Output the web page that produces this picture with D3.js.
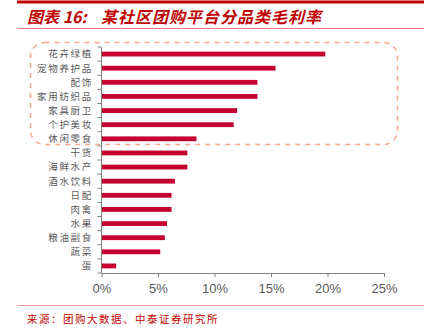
<!DOCTYPE html>
<html><head><meta charset="utf-8">
<script src="https://cdn.jsdelivr.net/npm/d3@7"></script>
<style>body{margin:0;background:#fff}svg{display:block}</style>
</head><body>
<script>
const categories = ["花卉绿植","宠物养护品","配饰","家用纺织品","家具厨卫","个护美妆","休闲零食","干货","海鲜水产","酒水饮料","日配","肉禽","水果","粮油副食","蔬菜","蛋"];
const values = [19.8,15.4,13.8,13.8,12.0,11.7,8.4,7.6,7.6,6.5,6.2,6.2,5.8,5.6,5.2,1.3];
const xTicks = [0,5,10,15,20,25];
const titleA = "图表 16:";
const titleB = "某社区团购平台分品类毛利率";
const source = "来源：团购大数据、中泰证券研究所";

const W=432,H=336;
const svg=d3.select("body").append("svg").attr("width",W).attr("height",H);
const red="#C00000";
const cjk="'Noto Sans CJK SC','Noto Sans',sans-serif";

svg.append("rect").attr("x",17).attr("y",0.5).attr("width",407).attr("height",3).attr("fill",red);
svg.append("text").attr("x",27).attr("y",23).attr("fill",red).attr("font-family",cjk)
  .attr("font-size",16).attr("font-weight","bold").attr("font-style","italic").text(titleA);
svg.append("text").attr("x",101).attr("y",23).attr("fill",red).attr("font-family",cjk)
  .attr("font-size",16).attr("font-weight","bold").attr("font-style","italic").attr("letter-spacing",1).text(titleB);
svg.append("line").attr("x1",17).attr("x2",424).attr("y1",28.5).attr("y2",28.5).attr("stroke","#E88080").attr("stroke-width",1);
svg.append("line").attr("x1",17).attr("x2",424).attr("y1",305.5).attr("y2",305.5).attr("stroke","#F0A0A0").attr("stroke-width",1);
svg.append("text").attr("x",27).attr("y",323).attr("fill",red).attr("font-family",cjk).attr("font-size",10.5).attr("letter-spacing",1.5).text(source);

const x=d3.scaleLinear().domain([0,25]).range([101.5,384]);
const y=d3.scaleBand().domain(categories).range([47,273]).paddingInner(0.66).paddingOuter(0.33);

svg.append("g").selectAll("rect").data(categories).join("rect")
  .attr("x",x(0)).attr("y",d=>y(d)).attr("height",y.bandwidth())
  .attr("width",(d,i)=>x(values[i])-x(0)).attr("fill","#C4002F");

// y axis
const ya=svg.append("g");
ya.append("line").attr("x1",x(0)).attr("x2",x(0)).attr("y1",47).attr("y2",273).attr("stroke","#808080");
d3.range(17).forEach(i=>{
  ya.append("line").attr("x1",x(0)-4).attr("x2",x(0)).attr("y1",47+i*(226/16)).attr("y2",47+i*(226/16)).attr("stroke","#808080");
});
ya.selectAll("text").data(categories).join("text")
  .attr("x",93).attr("y",d=>y(d)+y.bandwidth()/2).attr("dy","0.36em").attr("text-anchor","end")
  .attr("fill","#595959").attr("font-family",cjk).attr("font-size",9.5).attr("letter-spacing",1.7).text(d=>d);

// x axis
const xa=svg.append("g").attr("transform","translate(0,273)")
  .call(d3.axisBottom(x).tickValues(xTicks).tickFormat(d=>d+"%").tickSize(4).tickSizeOuter(0));
xa.select(".domain").attr("stroke","#808080");
xa.selectAll(".tick line").attr("stroke","#808080");
xa.selectAll(".tick text").attr("fill","#595959").attr("font-family","'Liberation Sans',Arial,sans-serif").attr("font-size",13).attr("dy","1.0em");

// dashed highlight
svg.append("rect").attr("x",30.5).attr("y",42.5).attr("width",367).attr("height",102).attr("rx",14).attr("ry",14)
  .attr("fill","none").attr("stroke","#F8A890").attr("stroke-width",1.5).attr("stroke-dasharray","5,5");
</script>
</body></html>
